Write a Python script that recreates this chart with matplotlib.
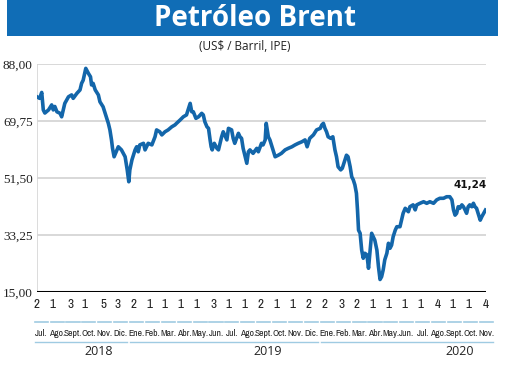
import os
import numpy as np
import pandas as pd
import matplotlib
matplotlib.use('Agg')
import matplotlib.pyplot as plt
from matplotlib.patches import Rectangle
from matplotlib import font_manager as fm

start = pd.Timestamp('2018-07-02')

# days since 2 Jul 2018, Brent close (US$/barril)
days = [0, 5, 9, 12, 15, 22, 28, 31, 34, 38, 44, 47, 50, 53, 60, 66, 69, 76, 82, 85,
        88, 93, 98, 102, 104, 107, 111, 117, 120, 126, 132, 136, 139, 142, 144, 147, 151, 155, 158, 161,
        168, 172, 175, 177, 181, 187, 190, 193, 196, 203, 206, 212, 219, 225, 228, 234, 238, 244, 250, 257,
        263, 266, 273, 279, 285, 288, 292, 295, 298, 303, 308, 314, 317, 320, 324, 327, 330, 332, 334, 338,
        343, 346, 352, 355, 362, 365, 371, 374, 377, 384, 387, 390, 393, 397, 400, 403, 406, 409, 412, 419,
        422, 428, 431, 435, 437, 441, 444, 447, 451, 454, 460, 466, 473, 479, 486, 492, 498, 505, 511, 515,
        520, 527, 533, 540, 543, 546, 549, 552, 555, 560, 564, 568, 571, 574, 579, 582, 586, 590, 593, 597,
        600, 603, 606, 609, 611, 613, 616, 619, 622, 625, 629, 632, 635, 638, 641, 644, 648, 651, 654, 657,
        660, 663, 667, 670, 673, 676, 679, 683, 686, 692, 695, 698, 702, 708, 711, 717, 721, 724, 730, 737,
        743, 749, 756, 762, 768, 775, 781, 787, 791, 794, 797, 800, 803, 806, 810, 813, 816, 819, 822, 825,
        829, 832, 835, 838, 841, 845, 848, 855]
price = [77.5, 77.0, 78.9, 73.3, 72.3, 73.3, 74.9, 73.3, 74.4, 72.7, 72.2, 71.1, 73.3, 75.4, 77.5, 78.1, 77.0, 78.6, 79.7, 81.8,
         82.8, 86.6, 85.0, 83.9, 81.3, 81.8, 79.7, 78.1, 75.9, 74.3, 71.1, 69.0, 66.9, 63.7, 61.0, 58.3, 59.9, 61.5, 61.0, 60.5,
         58.3, 54.1, 50.3, 54.1, 57.3, 60.5, 61.5, 59.9, 62.1, 62.6, 60.5, 62.6, 62.1, 64.7, 66.9, 66.3, 65.3, 66.3, 66.9, 67.9,
         68.5, 69.0, 70.1, 71.1, 71.7, 73.3, 75.4, 72.7, 72.7, 70.6, 71.1, 72.2, 71.7, 69.5, 67.9, 67.4, 63.7, 61.5, 60.5, 62.6,
         61.0, 60.5, 64.7, 66.3, 63.7, 67.4, 66.9, 64.2, 62.6, 65.8, 64.7, 64.2, 61.0, 58.3, 56.2, 59.9, 60.5, 59.9, 59.4, 61.0,
         59.9, 62.6, 62.1, 63.7, 69.0, 64.7, 63.7, 62.1, 59.9, 58.3, 58.8, 59.4, 60.5, 61.0, 61.5, 62.1, 62.6, 63.1, 63.7, 61.5,
         64.2, 65.3, 66.9, 67.4, 68.5, 69.0, 67.4, 66.3, 64.7, 64.2, 64.7, 60.5, 58.3, 55.1, 54.1, 54.6, 56.7, 58.8, 58.3, 55.1,
         51.9, 50.9, 49.3, 46.6, 41.3, 34.8, 33.8, 28.4, 25.8, 27.4, 26.9, 22.6, 28.4, 33.8, 32.7, 31.6, 28.4, 23.1, 19.0, 19.9,
         22.1, 25.3, 27.4, 30.6, 29.0, 30.0, 32.7, 34.8, 35.9, 35.9, 38.0, 40.2, 41.8, 40.7, 42.3, 42.9, 41.3, 42.9, 43.4, 43.9,
         43.4, 43.9, 43.4, 44.5, 45.0, 45.0, 45.5, 45.5, 44.5, 41.3, 39.6, 40.2, 42.3, 41.8, 42.9, 42.3, 41.3, 40.2, 42.3, 42.9,
         42.3, 43.4, 42.3, 41.8, 40.2, 38.0, 39.1, 41.24]

months = ['Jul.', 'Ago.', 'Sept.', 'Oct.', 'Nov.', 'Dic.',
          'Ene.', 'Feb.', 'Mar.', 'Abr.', 'May.', 'Jun.', 'Jul.', 'Ago.', 'Sept.', 'Oct.', 'Nov.', 'Dic.',
          'Ene.', 'Feb.', 'Mar.', 'Abr.', 'May.', 'Jun.', 'Jul.', 'Ago.', 'Sept.', 'Oct.', 'Nov.']
first_day = [2, 1, 3, 1, 5, 3,
             2, 1, 1, 1, 1, 3, 1, 1, 2, 1, 1, 2,
             2, 3, 2, 1, 1, 1, 1, 4, 1, 1, 4]
years = ['2018', '2019', '2020']
months_per_year = [6, 12, 11]
yticks = [15.00, 33.25, 51.50, 69.75, 88.00]
last_label = '41,24'

blue = '#1366aa'
light = '#9fcbe2'


def find_narrow():
    # look for an installed condensed sans face, regular weight
    best = None
    for e in fm.fontManager.ttflist:
        base = os.path.basename(e.fname).lower()
        name = e.name.lower()
        if 'serif' in name or 'mono' in name or 'cjk' in name:
            continue
        if any(w in base for w in ['bold', 'italic', 'oblique', 'light', 'thin', 'black',
                                    'medium', 'semibold', 'extrabold']):
            continue
        if 'narrow' in base or 'narrow' in name:
            score = 0
        elif 'extracondensed' in base:
            score = 2
        elif 'semicondensed' in base:
            score = 3
        elif 'condensed' in base or 'condensed' in name:
            score = 1
        else:
            continue
        if best is None or score < best[0]:
            best = (score, e.fname)
    return best


nf = find_narrow()
if nf is not None:
    month_font = dict(fontproperties=fm.FontProperties(fname=nf[1], size=6.9))
    num_font = dict(fontproperties=fm.FontProperties(fname=nf[1], size=9.5))
else:
    month_font = dict(family='Lato', fontsize=5.2)
    num_font = dict(family='Lato', fontsize=9)

# month start positions (days from start)
tick_pos = []
for i, d in enumerate(first_day):
    y = 2018 + (6 + i) // 12
    m = (6 + i) % 12 + 1
    tick_pos.append((pd.Timestamp(y, m, d) - start).days)
tick_pos = np.array(tick_pos)
# month names sit evenly spaced under the axis
label_pos = 8 + np.arange(len(months)) * 30.3

fig = plt.figure(figsize=(5.2, 3.76), dpi=100)
ax = fig.add_axes([37 / 520, 1 - 292 / 376, 449 / 520, 228 / 376])

# banner and title
fig.add_artist(Rectangle((7 / 520, 1 - 36 / 376), 491 / 520, 36 / 376,
                         transform=fig.transFigure, color='#106db6', lw=0))
fig.text(0.49, 1 - 19 / 376, 'Petróleo Brent', color='white', fontsize=20,
         fontweight='bold', family='Open Sans', ha='center', va='center')
fig.text(0.471, 1 - 46 / 376, '(US$ / Barril, IPE)', color='#222222', fontsize=8.5,
         family='Open Sans', ha='center', va='center')

for v in yticks[1:]:
    ax.axhline(v, color='#d6d6d6', lw=1.3, zorder=1)
ax.axhline(yticks[0], color='black', lw=2.2, zorder=3)
ax.axvline(0, color='#d6d6d6', lw=1.2, zorder=1)

ax.plot(days, price, color=blue, lw=2.6, solid_joinstyle='round', zorder=4)
ax.annotate(last_label, (days[-1], price[-1]), xytext=(1, 20), textcoords='offset pixels',
            ha='right', va='bottom', fontsize=7.5, fontweight='bold', color='#111111')

ax.set_xlim(0, 856)
ax.set_ylim(15, 88)
for s in ax.spines.values():
    s.set_visible(False)
ax.set_xticks([])
ax.set_yticks(yticks)
ax.set_yticklabels([f'{v:.2f}'.replace('.', ',') for v in yticks],
                   family=['Liberation Serif', 'DejaVu Serif'], fontsize=9.5, color='#222222')
ax.tick_params(axis='y', length=0, pad=3)

tr = ax.get_xaxis_transform()
for x, d in zip(tick_pos, first_day):
    ax.text(x, -0.057, str(d), transform=tr, ha='center', va='center',
            color='#222222', clip_on=False, **num_font)
for x, m in zip(label_pos, months):
    ax.text(x, -0.18, m, transform=tr, ha='center', va='center',
            color='#222222', clip_on=False, **month_font)
    ax.plot([x - 12.5, x + 12.5], [-0.132, -0.132], transform=tr, color=light,
            lw=1.2, clip_on=False)

year_x = [118, 440, 806]
k = 0
for y, n, xx in zip(years, months_per_year, year_x):
    a = label_pos[k] - 12
    b = label_pos[k + n - 1] + 12
    ax.plot([a, b], [-0.219, -0.219], transform=tr, color=light, lw=1.0, clip_on=False)
    ax.text(xx, -0.263, y, transform=tr, ha='center', va='center',
            fontsize=9, family='Open Sans', color='#222222', clip_on=False)
    k += n

plt.savefig('out.png', dpi=100)
